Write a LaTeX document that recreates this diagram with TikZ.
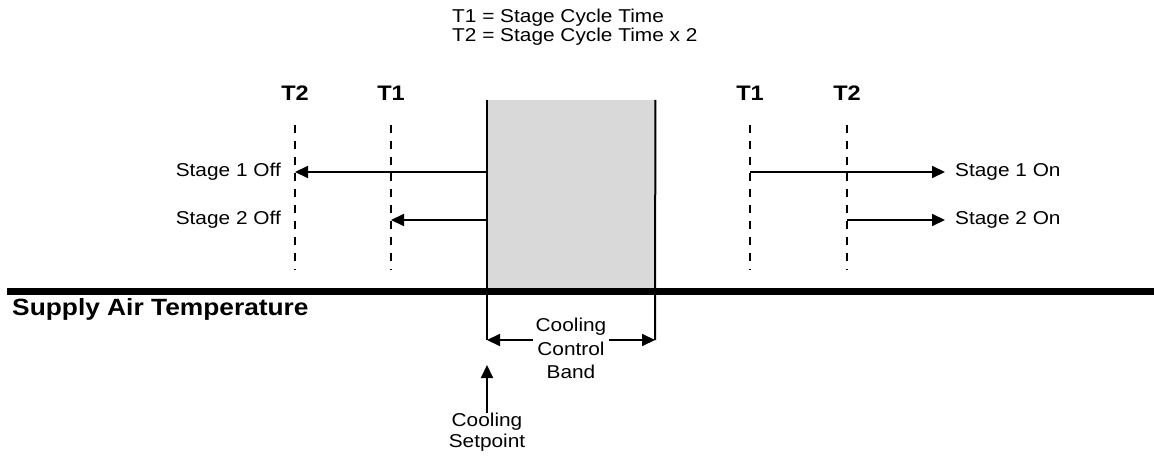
\documentclass[tikz,border=0pt]{standalone}
\usepackage{fontspec}
\setmainfont{Liberation Sans}[FakeStretch=1.12]
\usetikzlibrary{arrows.meta}
\definecolor{bandgray}{RGB}{217,217,217}
\begin{document}
\begin{tikzpicture}[x=1pt,y=-1pt,
  reg/.style={font=\fontsize{18.6}{21}\selectfont, inner sep=0pt},
  tlabel/.style={font=\bfseries\fontsize{21}{24}\selectfont, inner sep=0pt, anchor=base},
  dashln/.style={line width=2pt, dash pattern=on 8pt off 8pt},
  arr/.style={line width=2pt, -{Triangle[length=13pt,width=12pt]}},
  dblarr/.style={line width=2pt, {Triangle[length=13pt,width=12pt]}-{Triangle[length=13pt,width=12pt]}},
]
\useasboundingbox (0,0) rectangle (1154,457);

% legend
\node[reg, anchor=base west] (leg1) at (452,23) {T1 = Stage Cycle Time};
\node[reg, anchor=base west] (leg2) at (452,42) {T2 = Stage Cycle Time x 2};

% control band box
\node[fill=bandgray, draw=none, inner sep=0pt, minimum width=168pt, minimum height=191pt, anchor=north west] (band) at (487,100) {};
\coordinate (bandLb) at (487,340);
\coordinate (bandRb) at (655,340);
\draw[line width=2pt] (band.north west) -- (bandLb);
\draw[line width=2pt] (band.north east) -- (bandRb);

% axis
\coordinate (axL) at (7,291);
\coordinate (axR) at (1154,291);
\draw[line width=7pt] (axL) -- (axR);
\node[font=\bfseries\fontsize{23.5}{26}\selectfont, inner sep=0pt, anchor=base west] (sat) at (12,315) {Supply Air Temperature};

% time labels
\node[tlabel] (t2l) at (295,101) {T2};
\node[tlabel] (t1l) at (391,101) {T1};
\node[tlabel] (t1r) at (750,101) {T1};
\node[tlabel] (t2r) at (847,101) {T2};

% dashed lines
\coordinate (d1t) at (295,125); \coordinate (d1b) at (295,270);
\coordinate (d2t) at (391,125); \coordinate (d2b) at (391,270);
\coordinate (d3t) at (750,125); \coordinate (d3b) at (750,270);
\coordinate (d4t) at (847,125); \coordinate (d4b) at (847,270);
\draw[dashln] (d1t) -- (d1b);
\draw[dashln] (d2t) -- (d2b);
\draw[dashln] (d3t) -- (d3b);
\draw[dashln] (d4t) -- (d4b);

% stage arrows
\coordinate (s1off) at (295,172);
\coordinate (s2off) at (391,220);
\draw[arr] (band.west |- s1off) -- (s1off);
\draw[arr] (band.west |- s2off) -- (s2off);
\node[reg, anchor=east] (s1offl) at (281,172) {Stage 1 Off};
\node[reg, anchor=east] (s2offl) at (281,220) {Stage 2 Off};

\coordinate (s1onS) at (750,172);
\coordinate (s2onS) at (847,220);
\node[reg, anchor=west] (s1onl) at (955,172) {Stage 1 On};
\node[reg, anchor=west] (s2onl) at (955,220) {Stage 2 On};
\draw[arr] (s1onS) -- (s1onl.west -| 945,0);
\draw[arr] (s2onS) -- (s2onl.west -| 945,0);

% cooling control band
\draw[dblarr] (bandLb) -- (bandRb);
\node[reg, align=center, fill=white, inner xsep=3pt, inner ysep=0pt, anchor=north, font=\fontsize{18.6}{23.5}\selectfont] (cbl) at (571,318) {Cooling\\Control\\Band};

% cooling setpoint
\coordinate (spTip) at (487,365);
\node[reg, align=center, anchor=north, font=\fontsize{18.6}{20.5}\selectfont] (spl) at (487,413) {Cooling\\Setpoint};
\draw[arr] (spl.north) -- (spTip);
\end{tikzpicture}
\end{document}
